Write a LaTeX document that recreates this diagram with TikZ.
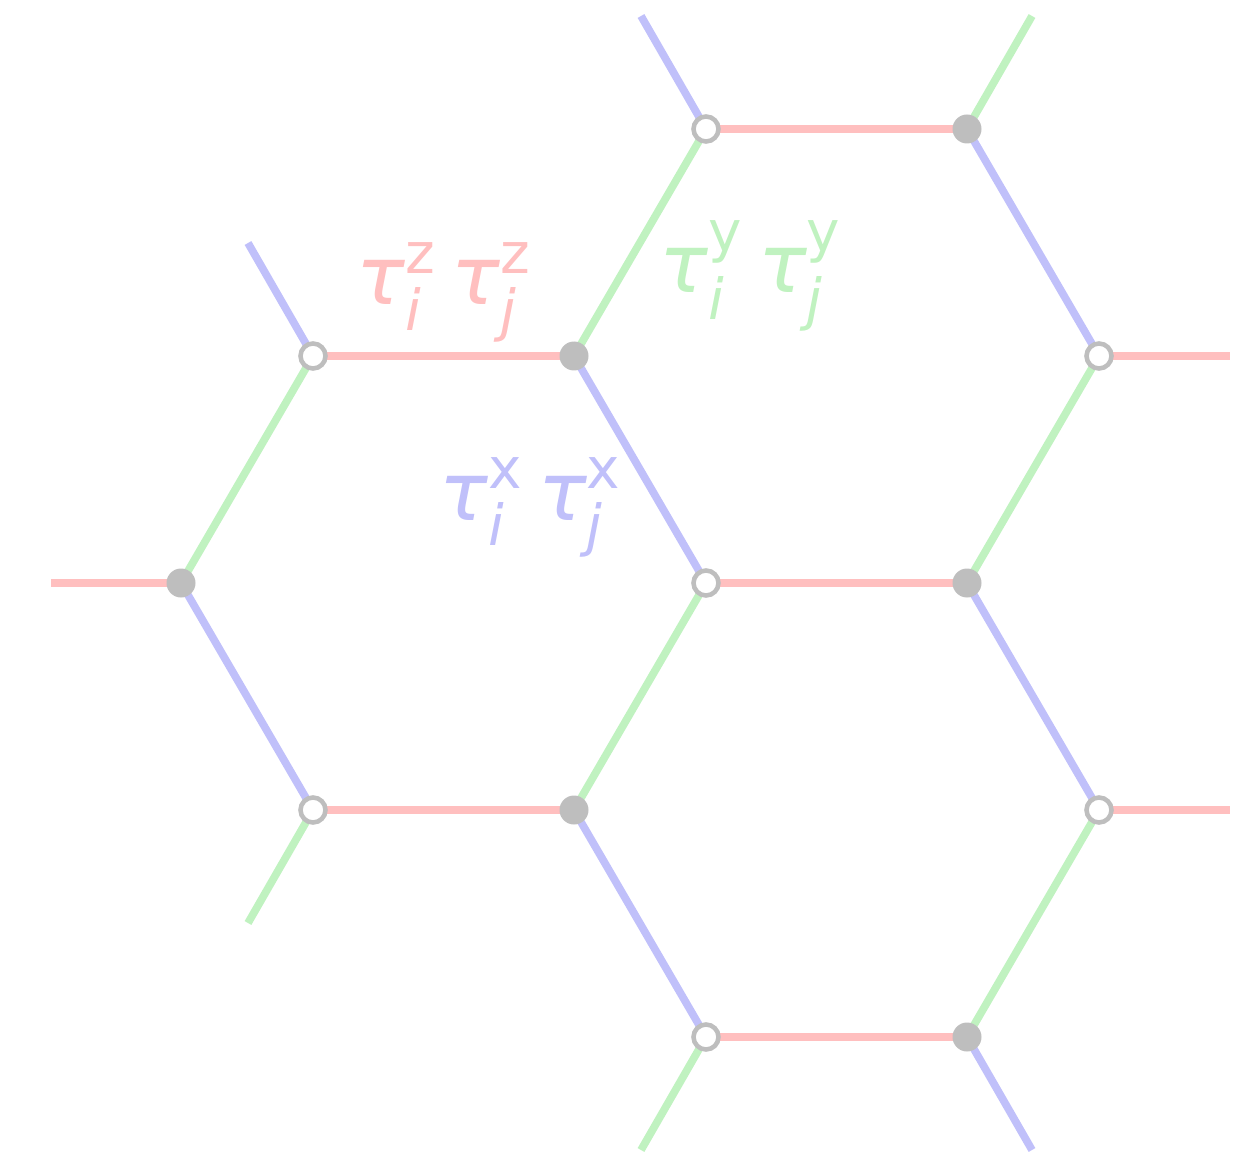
\documentclass[tikz,border=0pt]{standalone}
\usepackage{fontspec}
\usepackage{amsmath}
\setmainfont{DejaVu Sans}
\usetikzlibrary{backgrounds}

\definecolor{zred}{RGB}{255,191,191}
\definecolor{xblue}{RGB}{192,192,250}
\definecolor{ygreen}{RGB}{192,242,192}
\definecolor{sitegray}{RGB}{190,190,190}

% bond term tau_i^a tau_j^a
\newcommand{\bondterm}[1]{$\textit{τ}_{\textit{i}}^{\text{#1}}\,\textit{τ}_{\textit{j}}^{\text{#1}}$}

\begin{document}
\begin{tikzpicture}[
                bond/.style={line width=2.2pt},
                zbond/.style={bond, draw=zred},
                xbond/.style={bond, draw=xblue},
                ybond/.style={bond, draw=ygreen},
                opensite/.style={circle, draw=sitegray, fill=white, line width=1.3pt, minimum size=0.25cm, inner sep=0pt},
                fullsite/.style={circle, fill=sitegray, minimum size=0.29cm, inner sep=0pt},
                bondlabel/.style={anchor=base west, inner sep=0pt, font=\fontsize{23}{27}\selectfont}
            ]
            \useasboundingbox (0,0) rectangle (12.36,11.54);

            % open sites (sublattice A)
            \node[opensite] (o1) at (7.06,10.25) {};
            \node[opensite] (o2) at (3.13,7.98) {};
            \node[opensite] (o3) at (10.99,7.98) {};
            \node[opensite] (o4) at (7.06,5.71) {};
            \node[opensite] (o5) at (3.13,3.44) {};
            \node[opensite] (o6) at (10.99,3.44) {};
            \node[opensite] (o7) at (7.06,1.17) {};

            % filled sites (sublattice B)
            \node[fullsite] (f1) at (9.67,10.25) {};
            \node[fullsite] (f2) at (5.74,7.98) {};
            \node[fullsite] (f3) at (1.81,5.71) {};
            \node[fullsite] (f4) at (9.67,5.71) {};
            \node[fullsite] (f5) at (5.74,3.44) {};
            \node[fullsite] (f6) at (9.67,1.17) {};

            % loose ends of the cut-off bonds
            \coordinate (e1) at (6.41,11.38);
            \coordinate (e2) at (10.32,11.38);
            \coordinate (e3) at (2.48,9.11);
            \coordinate (e4) at (12.30,7.98);
            \coordinate (e5) at (0.51,5.71);
            \coordinate (e6) at (12.30,3.44);
            \coordinate (e7) at (2.48,2.31);
            \coordinate (e8) at (6.41,0.04);
            \coordinate (e9) at (10.32,0.04);

            \begin{pgfonlayer}{background}
            % z bonds (horizontal)
            \draw[zbond] (o1.center) -- (f1.center);
            \draw[zbond] (o2.center) -- (f2.center);
            \draw[zbond] (o3.center) -- (e4);
            \draw[zbond] (f3.center) -- (e5);
            \draw[zbond] (o4.center) -- (f4.center);
            \draw[zbond] (o5.center) -- (f5.center);
            \draw[zbond] (o6.center) -- (e6);
            \draw[zbond] (o7.center) -- (f6.center);

            % x bonds
            \draw[xbond] (o1.center) -- (e1);
            \draw[xbond] (f1.center) -- (o3.center);
            \draw[xbond] (o2.center) -- (e3);
            \draw[xbond] (f2.center) -- (o4.center);
            \draw[xbond] (f3.center) -- (o5.center);
            \draw[xbond] (f4.center) -- (o6.center);
            \draw[xbond] (f5.center) -- (o7.center);
            \draw[xbond] (f6.center) -- (e9);

            % y bonds
            \draw[ybond] (f1.center) -- (e2);
            \draw[ybond] (f2.center) -- (o1.center);
            \draw[ybond] (f3.center) -- (o2.center);
            \draw[ybond] (f4.center) -- (o3.center);
            \draw[ybond] (f5.center) -- (o4.center);
            \draw[ybond] (o5.center) -- (e7);
            \draw[ybond] (f6.center) -- (o6.center);
            \draw[ybond] (o7.center) -- (e8);
            \end{pgfonlayer}

            % bond labels
            \node[bondlabel, text=zred] (zlabel) at (3.56,8.49) {\bondterm{z}};
            \node[bondlabel, text=ygreen] (ylabel) at (6.59,8.61) {\bondterm{y}};
            \node[bondlabel, text=xblue] (xlabel) at (4.39,6.34) {\bondterm{x}};

        \end{tikzpicture}
\end{document}
